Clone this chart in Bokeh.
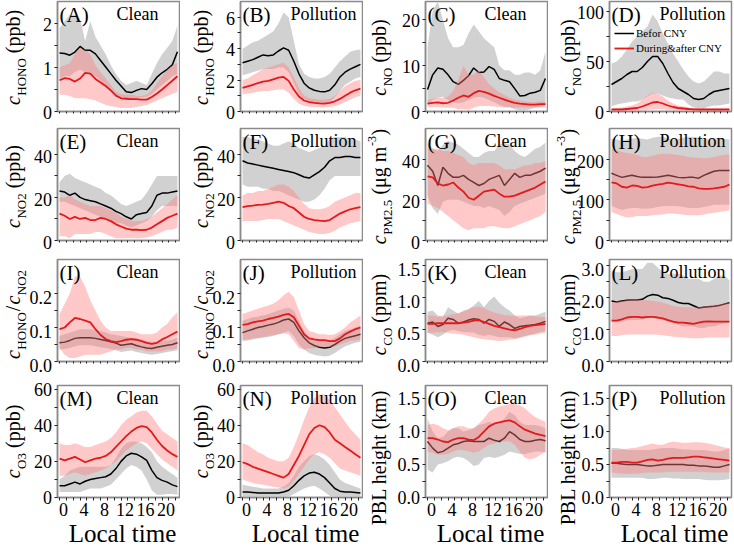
import math
from bokeh.plotting import figure
from bokeh.layouts import row, column
from bokeh.models import Label, Range1d, FixedTicker, Legend, LegendItem
from bokeh.core.properties import value
from bokeh.embed import file_html
from bokeh.resources import INLINE

hours = list(range(24))
xticks = [0, 4, 8, 12, 16, 20]
xticklabels = ["0", "4", "8", "12", "16", "20"]
xtitle = "Local time"

# ---------------- (A) HONO clean ----------------
A_bef = [1.33, 1.32, 1.28, 1.35, 1.48, 1.39, 1.39, 1.31, 1.16, 1.01, 0.86, 0.71, 0.58, 0.45, 0.43, 0.48, 0.52, 0.50, 0.63, 0.78, 0.88, 0.96, 1.06, 1.36]
A_bef_lo = [0.75, 0.80, 0.80, 0.90, 0.95, 0.90, 0.85, 0.80, 0.70, 0.55, 0.45, 0.35, 0.30, 0.28, 0.28, 0.30, 0.32, 0.33, 0.40, 0.50, 0.60, 0.70, 0.80, 0.85]
A_bef_hi = [1.90, 2.05, 2.20, 2.20, 2.10, 1.60, 2.05, 1.70, 1.50, 1.30, 1.05, 0.85, 0.70, 0.60, 0.65, 0.70, 0.65, 0.60, 0.85, 1.10, 1.30, 1.45, 1.60, 1.95]
A_dur = [0.71, 0.76, 0.74, 0.68, 0.75, 0.88, 0.86, 0.74, 0.66, 0.58, 0.48, 0.36, 0.30, 0.29, 0.28, 0.28, 0.27, 0.27, 0.33, 0.41, 0.50, 0.60, 0.70, 0.80]
A_dur_lo = [0.38, 0.38, 0.35, 0.30, 0.30, 0.30, 0.28, 0.25, 0.20, 0.15, 0.12, 0.10, 0.08, 0.08, 0.08, 0.10, 0.12, 0.15, 0.20, 0.25, 0.30, 0.35, 0.40, 0.45]
A_dur_hi = [1.00, 1.05, 1.10, 1.30, 1.45, 1.40, 1.30, 1.05, 0.90, 0.75, 0.60, 0.45, 0.40, 0.38, 0.38, 0.36, 0.35, 0.38, 0.48, 0.65, 0.80, 0.95, 1.05, 1.10]

# ---------------- (B) HONO pollution ----------------
B_bef = [3.10, 3.20, 3.30, 3.45, 3.60, 3.55, 3.60, 3.85, 4.05, 3.90, 3.20, 2.40, 1.80, 1.50, 1.35, 1.28, 1.25, 1.35, 1.70, 2.20, 2.50, 2.70, 2.85, 3.00]
B_bef_lo = [2.30, 2.40, 2.50, 2.60, 2.70, 2.70, 2.70, 2.80, 2.80, 2.50, 1.80, 1.10, 0.80, 0.65, 0.55, 0.50, 0.50, 0.60, 0.90, 1.30, 1.70, 1.90, 2.10, 2.20]
B_bef_hi = [4.00, 4.20, 4.40, 4.50, 4.70, 4.90, 5.10, 5.60, 6.30, 6.00, 4.50, 3.00, 2.40, 2.20, 2.10, 2.10, 2.20, 2.40, 2.80, 3.20, 3.50, 3.80, 3.90, 3.95]
B_dur = [1.50, 1.60, 1.70, 1.80, 1.90, 1.95, 2.05, 2.15, 2.20, 1.95, 1.40, 0.95, 0.70, 0.60, 0.55, 0.52, 0.50, 0.55, 0.65, 0.80, 1.00, 1.20, 1.35, 1.45]
B_dur_lo = [1.10, 1.15, 1.20, 1.25, 1.30, 1.30, 1.35, 1.40, 1.40, 1.20, 0.80, 0.50, 0.35, 0.30, 0.28, 0.25, 0.25, 0.28, 0.35, 0.45, 0.60, 0.75, 0.90, 1.00]
B_dur_hi = [2.00, 2.10, 2.30, 2.50, 2.70, 2.80, 2.90, 3.00, 3.10, 2.80, 2.20, 1.50, 1.00, 0.85, 0.80, 0.75, 0.75, 0.80, 1.00, 1.30, 1.60, 1.80, 1.95, 2.00]

# ---------------- (C) NO clean ----------------
C_bef = [4.8, 8.0, 9.5, 9.2, 8.0, 6.5, 5.9, 6.8, 7.8, 9.5, 8.5, 8.6, 9.8, 9.2, 7.2, 6.8, 6.5, 5.0, 3.4, 3.5, 4.0, 4.2, 4.6, 7.2]
C_bef_lo = [1.5, 2.5, 3.0, 3.2, 2.5, 2.0, 1.8, 2.0, 2.5, 3.0, 3.2, 3.0, 2.5, 2.0, 1.5, 1.0, 1.0, 0.5, 0.2, 0.2, 0.5, 0.8, 1.0, 1.5]
C_bef_hi = [14.0, 22.0, 24.0, 20.0, 16.0, 14.0, 14.0, 14.5, 17.0, 19.0, 17.5, 16.0, 15.0, 14.0, 10.0, 9.0, 9.0, 8.0, 8.0, 8.5, 8.5, 8.0, 9.0, 13.0]
C_dur = [1.7, 1.9, 2.0, 1.8, 1.9, 2.4, 3.0, 3.5, 3.2, 4.0, 4.5, 4.3, 3.9, 3.4, 3.0, 2.6, 2.2, 1.9, 1.7, 1.6, 1.5, 1.5, 1.6, 1.6]
C_dur_lo = [0.9, 1.0, 1.0, 0.9, 0.8, 0.8, 0.5, 0.5, 0.4, 0.8, 1.2, 1.2, 1.2, 1.1, 1.0, 0.9, 0.9, 0.9, 0.9, 0.9, 0.9, 0.9, 0.9, 0.9]
C_dur_hi = [2.5, 2.8, 3.0, 3.0, 3.2, 4.5, 7.0, 10.0, 8.0, 8.0, 9.0, 7.5, 6.0, 5.0, 4.2, 3.6, 3.0, 2.6, 2.4, 2.2, 2.1, 2.1, 2.2, 2.2]

# ---------------- (D) NO pollution ----------------
D_bef = [27, 30, 33, 37, 40, 40, 44, 50, 55, 55, 48, 38, 29, 23, 20, 17, 13, 12, 13, 17, 20, 21, 22, 23]
D_bef_lo = [5, 7, 8, 9, 10, 10, 12, 15, 18, 18, 16, 14, 13, 12, 12, 7, 4, 3, 3, 5, 6, 6, 7, 8]
D_bef_hi = [48, 50, 55, 62, 70, 75, 80, 85, 97, 90, 78, 68, 58, 50, 42, 35, 30, 28, 30, 35, 40, 40, 38, 38]
D_dur = [2.0, 2.0, 2.0, 2.5, 3.0, 3.5, 5.0, 7.0, 9.0, 9.5, 8.0, 6.0, 4.5, 3.5, 3.0, 2.5, 2.2, 2.0, 2.0, 2.0, 2.0, 2.0, 2.0, 2.0]
D_dur_lo = [0.5, 0.5, 0.5, 0.5, 0.6, 0.8, 1.0, 1.5, 2.0, 2.5, 2.0, 1.5, 1.2, 1.0, 0.8, 0.6, 0.5, 0.5, 0.5, 0.5, 0.5, 0.5, 0.5, 0.5]
D_dur_hi = [3.0, 3.5, 4.0, 5.0, 6.0, 8.0, 12.0, 16.0, 19.0, 18.0, 15.0, 11.0, 8.0, 6.0, 5.0, 4.0, 3.5, 3.0, 3.0, 3.0, 3.0, 3.0, 3.0, 3.0]

# ---------------- (E) NO2 clean ----------------
E_bef = [23.0, 22.5, 21.0, 22.0, 20.0, 19.0, 18.5, 18.0, 17.0, 16.0, 15.0, 13.5, 12.5, 11.0, 10.0, 12.0, 12.5, 13.0, 16.0, 21.0, 22.0, 22.0, 22.5, 23.0]
E_bef_lo = [18, 18, 17, 16, 15, 14, 13, 12, 11, 10, 9, 8, 8, 7, 6, 7, 8, 9, 11, 14, 16, 16, 16, 16]
E_bef_hi = [27, 30, 31, 29, 28, 27, 26, 25, 24, 22, 21, 19, 17, 16, 17, 18, 19, 22, 26, 30, 30, 30, 30, 30]
E_dur = [12.5, 11.5, 10.0, 11.0, 10.0, 10.5, 9.5, 9.5, 10.5, 10.0, 9.0, 7.5, 6.5, 5.5, 5.0, 5.0, 4.8, 5.0, 6.0, 7.5, 9.0, 10.5, 11.5, 12.5]
E_dur_lo = [2.0, 2.0, 1.0, 3.0, 3.0, 3.0, 3.0, 4.0, 4.0, 3.0, 2.0, 1.0, 1.0, 1.0, 1.0, 1.0, 1.0, 1.5, 2.0, 3.0, 4.0, 5.0, 5.0, 6.0]
E_dur_hi = [20, 20, 21, 19, 18, 17, 16, 16, 16, 15, 14, 13, 11, 10, 9, 9, 9, 10, 11, 13, 15, 17, 19, 21]

# ---------------- (F) NO2 pollution ----------------
F_bef = [37.0, 36.0, 35.5, 35.0, 34.5, 34.0, 33.5, 33.0, 32.5, 32.0, 31.5, 30.5, 29.5, 29.0, 30.5, 32.0, 34.0, 37.0, 38.5, 38.5, 39.0, 39.0, 38.5, 38.5]
F_bef_lo = [26, 25, 25, 25, 24, 24, 23, 23, 22, 21, 20, 19, 18, 18, 19, 21, 24, 28, 30, 30, 30, 30, 30, 30]
F_bef_hi = [48, 48, 47, 47, 46, 45, 44, 44, 45, 46, 45, 43, 42, 41, 42, 43, 44, 47, 48, 48, 48, 47, 47, 46]
F_dur = [15.5, 16.0, 16.2, 16.5, 16.7, 17.0, 17.5, 18.0, 17.5, 16.0, 15.0, 13.0, 11.0, 10.0, 9.5, 9.2, 9.0, 9.5, 11.0, 12.5, 13.5, 14.5, 15.0, 15.5]
F_dur_lo = [9.0, 9.0, 9.0, 9.0, 9.5, 10.0, 10.0, 10.0, 9.0, 8.0, 7.0, 6.0, 5.0, 4.0, 3.5, 3.0, 3.0, 3.5, 4.5, 6.0, 7.0, 8.0, 8.5, 9.0]
F_dur_hi = [21.0, 22.0, 22.0, 23.0, 23.0, 24.0, 25.0, 26.0, 26.0, 25.0, 23.0, 20.0, 17.0, 15.0, 14.5, 14.5, 15.0, 16.0, 18.0, 19.0, 20.0, 21.0, 22.0, 22.0]

# ---------------- (G) PM2.5 clean ----------------
G_bef = [37, 34, 27, 36, 33, 31, 31, 32, 30, 28.5, 27, 28, 30, 31, 32, 27, 30, 33, 31, 32, 32, 33, 34, 35.5]
G_bef_lo = [22, 16, 13, 19, 20, 20, 20, 19, 18, 17, 17, 16, 17, 16, 15, 12, 14, 17, 18, 19, 20, 21, 22, 23]
G_bef_hi = [48, 45, 44, 47, 49, 48, 47, 45, 43, 41, 41, 43, 44, 44, 47, 48, 47, 44, 42, 41, 43, 45, 46, 48]
G_dur = [31.5, 31.0, 28.0, 27.0, 27.5, 28.5, 26.0, 24.0, 21.0, 20.0, 22.0, 24.0, 24.5, 25.0, 23.0, 21.5, 21.5, 22.0, 23.0, 24.0, 25.0, 26.0, 27.5, 29.0]
G_dur_lo = [18, 17, 16, 14, 12, 10, 8, 6, 5, 6, 6, 6, 7, 7, 6.5, 6, 6, 7, 8, 9, 10, 11, 12, 14]
G_dur_hi = [45, 45, 45, 44, 44, 43, 42, 41, 38, 37, 38, 38, 38, 38, 37, 35, 35, 35, 36, 37, 37, 38, 38, 39]

# ---------------- (H) PM2.5 pollution ----------------
H_bef = [165, 160, 155, 158, 160, 157, 155, 155, 155, 156, 158, 160, 158, 155, 154, 155, 155, 153, 160, 165, 170, 172, 172, 172]
H_bef_lo = [85, 80, 75, 78, 80, 80, 78, 78, 80, 82, 84, 85, 85, 84, 82, 80, 80, 80, 82, 85, 88, 88, 88, 88]
H_bef_hi = [250, 248, 245, 248, 250, 252, 250, 248, 252, 255, 255, 250, 248, 250, 252, 255, 255, 252, 250, 248, 250, 252, 250, 248]
H_dur = [143, 140, 132, 130, 135, 134, 130, 131, 135, 137, 139, 142, 140, 138, 136, 133, 132, 128, 127, 127, 128, 130, 132, 137]
H_dur_lo = [70, 65, 60, 57, 58, 60, 60, 60, 62, 63, 64, 66, 66, 65, 63, 62, 62, 62, 64, 66, 68, 70, 72, 74]
H_dur_hi = [225, 222, 218, 215, 213, 210, 205, 205, 208, 212, 213, 213, 212, 210, 208, 205, 204, 203, 202, 203, 205, 208, 210, 212]

# ---------------- (I) HONO/NO2 clean ----------------
I_bef = [0.055, 0.057, 0.062, 0.068, 0.070, 0.070, 0.070, 0.068, 0.065, 0.062, 0.058, 0.054, 0.048, 0.050, 0.052, 0.047, 0.043, 0.040, 0.038, 0.042, 0.045, 0.048, 0.050, 0.055]
I_bef_lo = [0.035, 0.037, 0.040, 0.045, 0.048, 0.048, 0.048, 0.045, 0.042, 0.040, 0.037, 0.033, 0.028, 0.030, 0.032, 0.028, 0.025, 0.022, 0.020, 0.022, 0.025, 0.028, 0.030, 0.033]
I_bef_hi = [0.075, 0.080, 0.085, 0.090, 0.095, 0.095, 0.095, 0.092, 0.090, 0.085, 0.080, 0.078, 0.075, 0.072, 0.070, 0.068, 0.065, 0.060, 0.058, 0.058, 0.060, 0.062, 0.065, 0.070]
I_dur = [0.095, 0.100, 0.115, 0.128, 0.125, 0.120, 0.115, 0.095, 0.078, 0.066, 0.060, 0.057, 0.060, 0.064, 0.066, 0.064, 0.060, 0.055, 0.052, 0.055, 0.065, 0.072, 0.080, 0.088]
I_dur_lo = [0.040, 0.020, 0.010, 0.010, 0.015, 0.020, 0.020, 0.020, 0.020, 0.025, 0.030, 0.035, 0.035, 0.040, 0.040, 0.035, 0.035, 0.030, 0.030, 0.030, 0.030, 0.035, 0.035, 0.040]
I_dur_hi = [0.140, 0.170, 0.200, 0.250, 0.250, 0.220, 0.180, 0.150, 0.120, 0.100, 0.090, 0.090, 0.090, 0.090, 0.090, 0.085, 0.080, 0.080, 0.080, 0.085, 0.100, 0.110, 0.130, 0.145]

# ---------------- (J) HONO/NO2 pollution ----------------
J_bef = [0.085, 0.090, 0.095, 0.100, 0.103, 0.107, 0.110, 0.115, 0.122, 0.125, 0.115, 0.090, 0.070, 0.055, 0.047, 0.042, 0.040, 0.042, 0.050, 0.060, 0.068, 0.072, 0.076, 0.080]
J_bef_lo = [0.060, 0.062, 0.065, 0.068, 0.070, 0.072, 0.075, 0.080, 0.085, 0.090, 0.075, 0.050, 0.035, 0.025, 0.020, 0.017, 0.015, 0.017, 0.025, 0.035, 0.045, 0.050, 0.055, 0.058]
J_bef_hi = [0.120, 0.125, 0.130, 0.132, 0.135, 0.140, 0.145, 0.150, 0.155, 0.158, 0.150, 0.120, 0.090, 0.070, 0.065, 0.060, 0.060, 0.062, 0.070, 0.080, 0.090, 0.095, 0.100, 0.105]
J_dur = [0.108, 0.110, 0.115, 0.118, 0.120, 0.125, 0.128, 0.132, 0.137, 0.140, 0.130, 0.105, 0.080, 0.068, 0.065, 0.063, 0.063, 0.060, 0.060, 0.068, 0.080, 0.088, 0.095, 0.100]
J_dur_lo = [0.065, 0.065, 0.068, 0.070, 0.072, 0.075, 0.078, 0.080, 0.082, 0.080, 0.060, 0.040, 0.035, 0.038, 0.040, 0.042, 0.042, 0.042, 0.045, 0.050, 0.055, 0.060, 0.062, 0.065]
J_dur_hi = [0.140, 0.145, 0.150, 0.155, 0.160, 0.165, 0.170, 0.180, 0.195, 0.205, 0.190, 0.150, 0.110, 0.090, 0.085, 0.080, 0.080, 0.078, 0.080, 0.090, 0.100, 0.115, 0.125, 0.135]

# ---------------- (K) CO clean ----------------
K_bef = [0.60, 0.62, 0.55, 0.58, 0.68, 0.66, 0.60, 0.62, 0.65, 0.67, 0.66, 0.60, 0.66, 0.63, 0.55, 0.62, 0.58, 0.52, 0.55, 0.56, 0.57, 0.58, 0.60, 0.63]
K_bef_lo = [0.45, 0.42, 0.38, 0.42, 0.48, 0.50, 0.48, 0.46, 0.46, 0.45, 0.42, 0.40, 0.42, 0.40, 0.38, 0.38, 0.38, 0.36, 0.38, 0.40, 0.42, 0.44, 0.46, 0.48]
K_bef_hi = [0.78, 0.80, 0.72, 0.70, 0.85, 0.80, 0.75, 0.80, 0.82, 0.88, 0.95, 0.85, 0.95, 1.02, 0.92, 0.85, 0.80, 0.72, 0.68, 0.70, 0.72, 0.72, 0.75, 0.78]
K_dur = [0.59, 0.59, 0.60, 0.60, 0.60, 0.60, 0.60, 0.61, 0.62, 0.64, 0.65, 0.62, 0.59, 0.56, 0.54, 0.52, 0.50, 0.49, 0.51, 0.54, 0.56, 0.57, 0.58, 0.59]
K_dur_lo = [0.45, 0.45, 0.46, 0.46, 0.45, 0.44, 0.43, 0.42, 0.40, 0.38, 0.36, 0.35, 0.34, 0.33, 0.32, 0.33, 0.34, 0.35, 0.37, 0.39, 0.41, 0.42, 0.44, 0.45]
K_dur_hi = [0.72, 0.72, 0.70, 0.72, 0.72, 0.74, 0.76, 0.78, 0.82, 0.85, 0.86, 0.84, 0.80, 0.77, 0.75, 0.73, 0.72, 0.72, 0.72, 0.72, 0.72, 0.71, 0.70, 0.70]

# ---------------- (L) CO pollution ----------------
L_bef = [1.90, 1.87, 1.90, 1.92, 1.93, 1.93, 1.95, 2.05, 2.10, 2.08, 2.00, 1.98, 1.92, 1.85, 1.82, 1.82, 1.75, 1.68, 1.70, 1.72, 1.73, 1.76, 1.80, 1.84]
L_bef_lo = [1.30, 1.25, 1.25, 1.30, 1.30, 1.30, 1.32, 1.35, 1.40, 1.35, 1.30, 1.25, 1.20, 1.15, 1.10, 1.10, 1.10, 1.05, 1.05, 1.10, 1.10, 1.15, 1.20, 1.22]
L_bef_hi = [2.85, 2.80, 2.80, 2.85, 2.90, 2.90, 2.90, 3.10, 3.10, 2.95, 2.80, 2.75, 2.75, 2.75, 2.70, 2.60, 2.60, 2.60, 2.50, 2.50, 2.60, 2.70, 2.70, 2.55]
L_dur = [1.28, 1.28, 1.32, 1.38, 1.40, 1.40, 1.38, 1.40, 1.40, 1.38, 1.35, 1.30, 1.25, 1.22, 1.22, 1.20, 1.18, 1.22, 1.25, 1.26, 1.25, 1.25, 1.25, 1.25]
L_dur_lo = [0.80, 0.80, 0.82, 0.85, 0.85, 0.85, 0.85, 0.85, 0.85, 0.84, 0.82, 0.80, 0.78, 0.76, 0.75, 0.74, 0.73, 0.73, 0.74, 0.75, 0.75, 0.75, 0.75, 0.75]
L_dur_hi = [1.85, 1.88, 1.90, 1.93, 1.95, 1.95, 1.93, 1.92, 1.90, 1.88, 1.85, 1.80, 1.75, 1.72, 1.70, 1.70, 1.70, 1.70, 1.72, 1.75, 1.78, 1.80, 1.82, 1.85]

# ---------------- (M) O3 clean ----------------
M_bef = [6.5, 6.5, 7.5, 8.5, 7.5, 9.0, 10.0, 10.5, 11.0, 11.5, 13.0, 16.0, 20.0, 23.0, 24.5, 24.0, 22.5, 20.5, 15.0, 11.0, 9.5, 8.5, 7.0, 6.0]
M_bef_lo = [3.0, 3.0, 3.0, 3.0, 3.0, 4.0, 5.0, 5.0, 5.0, 6.0, 7.0, 10.0, 13.0, 16.0, 18.0, 17.0, 15.0, 10.0, 4.0, 1.5, 1.5, 2.0, 2.0, 1.5]
M_bef_hi = [10, 12, 15, 16, 17, 17, 17, 17, 17, 17, 18, 22, 27, 30, 31, 31, 30, 28, 25, 20, 17, 15, 13, 11]
M_dur = [21.5, 20.5, 21.5, 22.5, 21.0, 19.5, 20.5, 21.5, 22.0, 23.0, 25.0, 28.0, 31.0, 34.0, 36.5, 38.5, 39.5, 39.0, 36.0, 32.0, 28.5, 26.0, 24.0, 22.5]
M_dur_lo = [12, 12, 13, 14, 13, 12, 13, 14, 15, 16, 18, 20, 23, 26, 28, 30, 31, 30, 27, 24, 21, 19, 17, 15]
M_dur_hi = [30, 29, 29, 30, 29, 28, 28, 29, 30, 31, 33, 36, 40, 43, 45, 47, 48, 48, 45, 41, 37, 35, 33, 31]

# ---------------- (N) O3 pollution ----------------
N_bef = [3.0, 3.0, 2.8, 2.5, 2.5, 2.5, 2.5, 2.5, 3.0, 4.0, 6.5, 9.5, 12.0, 13.5, 14.0, 13.0, 11.0, 8.0, 5.0, 3.5, 3.0, 3.0, 2.8, 2.5]
N_bef_lo = [0.0, 0.0, 0.0, 0.0, 0.0, 0.0, 0.0, 0.0, 0.2, 0.5, 2.0, 3.5, 5.0, 6.0, 6.5, 5.0, 3.0, 1.0, 0.0, 0.0, 0.0, 0.0, 0.0, 0.0]
N_bef_hi = [7.0, 6.5, 6.0, 5.5, 5.0, 5.0, 5.0, 5.0, 6.0, 8.0, 12.0, 17.0, 20.0, 23.0, 24.0, 23.0, 21.0, 18.0, 14.0, 10.0, 8.0, 7.0, 6.0, 5.0]
N_dur = [19.5, 18.5, 17.0, 16.0, 15.0, 14.0, 13.0, 12.0, 11.0, 13.0, 18.0, 23.0, 29.0, 35.0, 38.5, 40.0, 39.0, 36.0, 32.0, 30.0, 28.0, 26.0, 24.0, 22.0]
N_dur_lo = [10.0, 9.0, 8.0, 7.5, 7.0, 6.5, 6.0, 5.5, 5.0, 6.0, 9.0, 13.0, 17.0, 21.0, 24.0, 25.0, 24.0, 22.0, 19.0, 16.0, 15.0, 14.0, 13.0, 12.0]
N_dur_hi = [30, 29, 27, 25, 24, 22, 21, 20, 20, 22, 28, 35, 43, 50, 55, 57, 57, 54, 50, 46, 42, 38, 35, 32]

# ---------------- (O) PBL clean ----------------
O_bef = [0.85, 0.75, 0.68, 0.70, 0.75, 0.80, 0.82, 0.85, 0.86, 0.85, 0.85, 0.85, 0.90, 0.87, 0.85, 0.90, 1.00, 0.95, 0.88, 0.85, 0.85, 0.87, 0.88, 0.86]
O_bef_lo = [0.42, 0.38, 0.50, 0.52, 0.55, 0.60, 0.62, 0.60, 0.55, 0.48, 0.50, 0.60, 0.62, 0.60, 0.62, 0.65, 0.70, 0.68, 0.66, 0.66, 0.68, 0.70, 0.70, 0.68]
O_bef_hi = [1.20, 1.00, 0.90, 0.92, 1.00, 1.05, 1.05, 1.00, 1.02, 1.05, 1.10, 1.12, 1.15, 1.12, 1.12, 1.20, 1.30, 1.25, 1.15, 1.10, 1.10, 1.10, 1.08, 1.05]
O_dur = [0.90, 0.90, 0.88, 0.85, 0.84, 0.88, 0.90, 0.90, 0.88, 0.87, 0.92, 1.00, 1.08, 1.12, 1.14, 1.16, 1.17, 1.14, 1.08, 1.03, 1.00, 0.97, 0.95, 0.93]
O_dur_lo = [0.70, 0.68, 0.65, 0.65, 0.66, 0.70, 0.72, 0.72, 0.70, 0.68, 0.70, 0.75, 0.80, 0.82, 0.85, 0.85, 0.85, 0.80, 0.70, 0.60, 0.58, 0.60, 0.65, 0.70]
O_dur_hi = [1.10, 1.12, 1.10, 1.05, 1.02, 1.05, 1.08, 1.08, 1.05, 1.05, 1.12, 1.20, 1.30, 1.35, 1.38, 1.40, 1.42, 1.42, 1.40, 1.35, 1.28, 1.22, 1.18, 1.15]

# ---------------- (P) PBL pollution ----------------
P_bef = [0.52, 0.52, 0.51, 0.50, 0.50, 0.50, 0.49, 0.48, 0.48, 0.49, 0.50, 0.50, 0.50, 0.50, 0.50, 0.49, 0.49, 0.48, 0.48, 0.47, 0.46, 0.46, 0.48, 0.50]
P_bef_lo = [0.30, 0.30, 0.30, 0.30, 0.30, 0.30, 0.30, 0.28, 0.28, 0.29, 0.30, 0.30, 0.29, 0.29, 0.28, 0.28, 0.28, 0.28, 0.27, 0.26, 0.26, 0.26, 0.27, 0.28]
P_bef_hi = [0.75, 0.75, 0.74, 0.72, 0.72, 0.72, 0.72, 0.72, 0.73, 0.74, 0.75, 0.75, 0.75, 0.74, 0.73, 0.73, 0.72, 0.72, 0.72, 0.71, 0.70, 0.70, 0.72, 0.74]
P_dur = [0.53, 0.53, 0.54, 0.54, 0.53, 0.53, 0.55, 0.57, 0.58, 0.56, 0.57, 0.59, 0.60, 0.60, 0.60, 0.61, 0.62, 0.62, 0.61, 0.60, 0.59, 0.58, 0.57, 0.56]
P_dur_lo = [0.38, 0.37, 0.36, 0.36, 0.36, 0.36, 0.37, 0.38, 0.38, 0.38, 0.38, 0.39, 0.39, 0.39, 0.39, 0.39, 0.39, 0.39, 0.39, 0.38, 0.38, 0.38, 0.38, 0.38]
P_dur_hi = [0.72, 0.72, 0.73, 0.74, 0.75, 0.76, 0.78, 0.80, 0.82, 0.80, 0.80, 0.83, 0.85, 0.84, 0.83, 0.83, 0.84, 0.84, 0.83, 0.82, 0.80, 0.78, 0.76, 0.75]

legend_labels = ["Befor CNY", "During&after CNY"]

SERIF = "Liberation Serif"
W = {' ': 0.25, '(': 0.333, ')': 0.333, '/': 0.278, '.': 0.25, '-': 0.333, '&': 0.778,
     '0': 0.5, '1': 0.5, '2': 0.5, '3': 0.5, '5': 0.5,
     'A': 0.722, 'B': 0.667, 'C': 0.667, 'H': 0.722, 'L': 0.611, 'M': 0.889, 'N': 0.722,
     'O': 0.722, 'P': 0.556, 'a': 0.444, 'b': 0.5, 'c': 0.444, 'e': 0.444, 'g': 0.5,
     'h': 0.5, 'i': 0.278, 'k': 0.5, 'm': 0.778, 'p': 0.5, 't': 0.278, 'μ': 0.55}


def tw(s, size):
    return sum(W.get(ch, 0.5) for ch in s) * size


MAIN, SUB = 20, 13


def conc(sub, unit):
    return [("c", "italic", MAIN, 0, 0), (sub, "normal", SUB, 6, 0.5), (unit, "normal", MAIN, 0, 5)]


LAB_HONO = conc("HONO", "(ppb)")
LAB_NO = conc("NO", "(ppb)")
LAB_NO2 = conc("NO2", "(ppb)")
LAB_PM = [("c", "italic", MAIN, 0, 0), ("PM2.5", "normal", SUB, 6, 0.5), ("(μg m", "normal", MAIN, 0, 5),
          ("-3", "normal", 12, -9, 0.5), (")", "normal", MAIN, 0, 0.5)]
LAB_RATIO = [("c", "italic", MAIN, 0, 0), ("HONO", "normal", SUB, 6, 0.5), ("/", "normal", MAIN, 0, 1),
             ("c", "italic", MAIN, 0, 1), ("NO2", "normal", SUB, 6, 0.5)]
LAB_CO = conc("CO", "(ppm)")
LAB_O3 = conc("O3", "(ppb)")
LAB_PBL = [("PBL height (km)", "normal", MAIN, 0, 0)]

panels = [
    ("(A)", "Clean", 2.5, [0, 1, 2], ["0", "1", "2"], LAB_HONO, (A_bef, A_bef_lo, A_bef_hi, A_dur, A_dur_lo, A_dur_hi)),
    ("(B)", "Pollution", 7.0, [0, 2, 4, 6], ["0", "2", "4", "6"], LAB_HONO, (B_bef, B_bef_lo, B_bef_hi, B_dur, B_dur_lo, B_dur_hi)),
    ("(C)", "Clean", 24, [0, 10, 20], ["0", "10", "20"], LAB_NO, (C_bef, C_bef_lo, C_bef_hi, C_dur, C_dur_lo, C_dur_hi)),
    ("(D)", "Pollution", 110, [0, 50, 100], ["0", "50", "100"], LAB_NO, (D_bef, D_bef_lo, D_bef_hi, D_dur, D_dur_lo, D_dur_hi)),
    ("(E)", "Clean", 52, [0, 20, 40], ["0", "20", "40"], LAB_NO2, (E_bef, E_bef_lo, E_bef_hi, E_dur, E_dur_lo, E_dur_hi)),
    ("(F)", "Pollution", 52, [0, 20, 40], ["0", "20", "40"], LAB_NO2, (F_bef, F_bef_lo, F_bef_hi, F_dur, F_dur_lo, F_dur_hi)),
    ("(G)", "Clean", 55, [0, 20, 40], ["0", "20", "40"], LAB_PM, (G_bef, G_bef_lo, G_bef_hi, G_dur, G_dur_lo, G_dur_hi)),
    ("(H)", "Pollution", 275, [0, 100, 200], ["0", "100", "200"], LAB_PM, (H_bef, H_bef_lo, H_bef_hi, H_dur, H_dur_lo, H_dur_hi)),
    ("(I)", "Clean", 0.3, [0.0, 0.1, 0.2], ["0.0", "0.1", "0.2"], LAB_RATIO, (I_bef, I_bef_lo, I_bef_hi, I_dur, I_dur_lo, I_dur_hi)),
    ("(J)", "Pollution", 0.3, [0.0, 0.1, 0.2], ["0.0", "0.1", "0.2"], LAB_RATIO, (J_bef, J_bef_lo, J_bef_hi, J_dur, J_dur_lo, J_dur_hi)),
    ("(K)", "Clean", 1.6, [0.0, 0.5, 1.0, 1.5], ["0.0", "0.5", "1.0", "1.5"], LAB_CO, (K_bef, K_bef_lo, K_bef_hi, K_dur, K_dur_lo, K_dur_hi)),
    ("(L)", "Pollution", 3.2, [0.0, 1.0, 2.0, 3.0], ["0.0", "1.0", "2.0", "3.0"], LAB_CO, (L_bef, L_bef_lo, L_bef_hi, L_dur, L_dur_lo, L_dur_hi)),
    ("(M)", "Clean", 62, [0, 20, 40, 60], ["0", "20", "40", "60"], LAB_O3, (M_bef, M_bef_lo, M_bef_hi, M_dur, M_dur_lo, M_dur_hi)),
    ("(N)", "Pollution", 62, [0, 20, 40, 60], ["0", "20", "40", "60"], LAB_O3, (N_bef, N_bef_lo, N_bef_hi, N_dur, N_dur_lo, N_dur_hi)),
    ("(O)", "Clean", 1.7, [0.0, 0.5, 1.0, 1.5], ["0.0", "0.5", "1.0", "1.5"], LAB_PBL, (O_bef, O_bef_lo, O_bef_hi, O_dur, O_dur_lo, O_dur_hi)),
    ("(P)", "Pollution", 1.7, [0.0, 0.5, 1.0, 1.5], ["0.0", "0.5", "1.0", "1.5"], LAB_PBL, (P_bef, P_bef_lo, P_bef_hi, P_dur, P_dur_lo, P_dur_hi)),
]

# ---- layout (pixels) ----
FW = 122
FHS = [110, 112, 102, 112]
LW = [53, 56, 58, 57]        # label strip to the left of each panel
PB = 4                       # panel's own left border (ticks only)
RIGHT = [1, 1, 1, 2]
TOP = [1, 2, 4, 9]
BOTTOM = [15, 15, 15, 4]
HB = 46                      # strip under the bottom row (tick labels + x title)
YLAB_OFF = [-38, -33, -40, -35]   # baseline of y title relative to the frame's left edge
XR = (-0.4, 23.4)

GRAY = "#d1d1d1"
PINK = "#ff7f7f"
RED = "#e3191c"
FRAME = "#8a8a8a"

x_minor = []
for a in xticks:
    x_minor += [a, a + 4 / 3, a + 8 / 3]


def bare(fw, fh, xr, yr):
    f = figure(frame_width=fw, frame_height=fh, min_border=0,
               min_border_left=0, min_border_right=0, min_border_top=0, min_border_bottom=0,
               x_range=xr, y_range=yr, x_axis_type=None, y_axis_type=None,
               output_backend="svg", toolbar_location=None, tools="")
    f.outline_line_color = None
    return f


def make_label_strip(idx):
    tag, cond, ymax, yt, ytl, ylab, data = panels[idx]
    r, c = divmod(idx, 4)
    FH = FHS[r]
    below = BOTTOM[r] + (HB if r == 3 else 0)
    H = TOP[r] + FH + below
    k = ymax / FH
    lf = bare(LW[c], H, Range1d(0, LW[c]), Range1d(-below * k, ymax + TOP[r] * k))
    # tick labels at the tick values (same vertical scale as the panel)
    lf.text(x=[LW[c] - 1.5] * len(yt), y=yt, text=ytl, text_align="right", text_baseline="middle",
            text_font=value(SERIF), text_font_size=value("18px"), text_color="black")
    # rotated y title assembled from pieces (centre-anchored)
    total = sum(tw(t, sz) + g for t, st, sz, sh, g in ylab)
    shift = -16 if ylab is LAB_PBL else 0
    pos = -total / 2 + shift
    bx = LW[c] + PB + YLAB_OFF[c]
    for t, st, sz, sh, g in ylab:
        pos += g
        w = tw(t, sz)
        cx = bx + sh - 0.34 * sz
        lf.text(x=[cx], y=[ymax / 2 + (pos + w / 2) * k], text=[t], angle=math.pi / 2,
                text_align="center", text_baseline="middle",
                text_font=value(SERIF), text_font_size=value(f"{sz}px"),
                text_font_style=value(st), text_color="black")
        pos += w
    return lf


def make_x_strip(c):
    u = (XR[1] - XR[0]) / FW
    xs = bare(PB + FW + RIGHT[c], HB, Range1d(XR[0] - PB * u, XR[1] + RIGHT[c] * u), Range1d(0, HB))
    xs.text(x=xticks, y=[HB - 1] * len(xticks), text=xticklabels, text_align="center", text_baseline="top",
            text_font=value(SERIF), text_font_size=value("18px"), text_color="black")
    xs.text(x=[(XR[0] + XR[1]) / 2], y=[HB - 18], text=[xtitle], text_align="center", text_baseline="top",
            text_font=value(SERIF), text_font_size=value("25px"), text_color="black")
    return xs


def make(idx):
    tag, cond, ymax, yt, ytl, ylab, data = panels[idx]
    r, c = divmod(idx, 4)
    FH = FHS[r]
    bef, bef_lo, bef_hi, dur, dur_lo, dur_hi = data
    p = figure(frame_width=FW, frame_height=FH,
               min_border_left=PB, min_border_right=RIGHT[c],
               min_border_top=TOP[r], min_border_bottom=BOTTOM[r],
               x_range=Range1d(*XR), y_range=Range1d(0, ymax),
               output_backend="svg", toolbar_location=None, tools="")
    p.grid.visible = False
    p.outline_line_color = FRAME
    p.outline_line_width = 1.5
    p.background_fill_color = "white"

    p.varea(x=hours, y1=bef_lo, y2=bef_hi, fill_color=GRAY, fill_alpha=1.0)
    rb = p.line(x=hours, y=bef, line_color="black", line_width=1.5)
    p.varea(x=hours, y1=dur_lo, y2=dur_hi, fill_color=PINK, fill_alpha=0.42)
    ra = p.line(x=hours, y=dur, line_color=RED, line_width=1.8)

    ymid = [(yt[i] + yt[i + 1]) / 2 for i in range(len(yt) - 1)]
    p.yaxis.ticker = FixedTicker(ticks=[], minor_ticks=yt + ymid)
    p.xaxis.ticker = FixedTicker(ticks=[], minor_ticks=x_minor)
    for ax in (p.xaxis[0], p.yaxis[0]):
        ax.axis_line_color = FRAME
        ax.axis_line_width = 1.5
        ax.minor_tick_line_color = "#222222"
        ax.minor_tick_out = 2
        ax.minor_tick_in = 0
        ax.major_label_standoff = 0
    p.yaxis.minor_tick_out = 3
    if r == 3:
        p.xaxis.minor_tick_out = 3

    p.add_layout(Label(x=2, y=FH - 1, x_units="screen", y_units="screen", text=tag,
                       text_font=SERIF, text_font_size="21px", text_baseline="top",
                       text_color="black"))
    p.add_layout(Label(x=59 if cond == "Clean" else 50, y=FH - 2, x_units="screen", y_units="screen",
                       text=cond, text_font=SERIF, text_font_size="18px", text_baseline="top",
                       text_color="black"))

    if tag == "(D)":
        leg = Legend(items=[LegendItem(label=legend_labels[0], renderers=[rb]),
                            LegendItem(label=legend_labels[1], renderers=[ra])],
                     location=(5, FH - 54), orientation="vertical")
        leg.label_text_font = SERIF
        leg.label_text_font_size = "11px"
        leg.label_text_color = "black"
        leg.label_height = 14
        leg.glyph_height = 14
        leg.glyph_width = 20
        leg.label_standoff = 2
        leg.spacing = 1
        leg.padding = 0
        leg.margin = 0
        leg.border_line_color = None
        leg.background_fill_alpha = 0
        p.add_layout(leg)
    return p


lines = []
for r in range(4):
    kids = []
    for c in range(4):
        i = r * 4 + c
        kids.append(make_label_strip(i))
        if r == 3:
            kids.append(column(make(i), make_x_strip(c), spacing=0))
        else:
            kids.append(make(i))
    lines.append(row(*kids, spacing=0))

layout = column(*lines, spacing=0)

open("out.html", "w").write(file_html(layout, INLINE))
